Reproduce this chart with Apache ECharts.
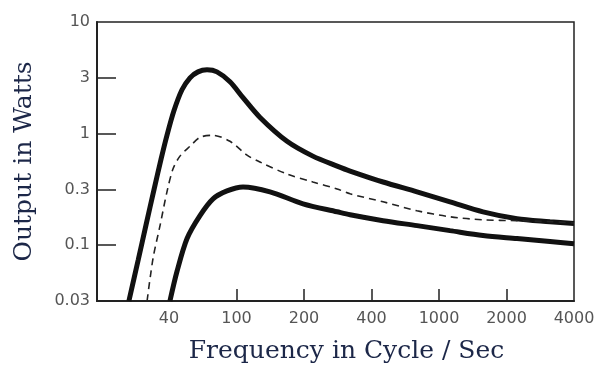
<!DOCTYPE html>
<html><head><meta charset="utf-8">
<script src="https://cdn.jsdelivr.net/npm/echarts@6/dist/echarts.min.js"></script>
<style>html,body{margin:0;padding:0;background:#fff}#c{width:608px;height:369px}</style>
</head><body><div id="c"></div>
<script>
// Tick labels (axes are evenly spaced between these ticks)
const xTicks = [40, 100, 200, 400, 1000, 2000, 4000];
const yTicks = [0.03, 0.1, 0.3, 1, 3, 10];

// Upper thick curve (Hz, W)
const freqUpper = [23.2, 26.3, 29.3, 32.6, 35.9, 38.9, 42.8, 47.7, 53.2, 59.3, 67.0, 76.7, 91.5, 106.9, 127.3, 168, 219, 281, 321, 468, 742, 1120, 1571, 2228, 3125, 4000];
const wattUpper = [0.03, 0.0722, 0.150, 0.297, 0.576, 0.963, 1.574, 2.37, 3.0, 3.41, 3.56, 3.41, 2.775, 2.03, 1.374, 0.847, 0.615, 0.496, 0.446, 0.352, 0.286, 0.235, 0.193, 0.1686, 0.159, 0.153];

// Middle dashed curve
const freqMiddle = [29.7, 32.2, 35.4, 38.9, 42.2, 46.4, 53.2, 60.9, 72.7, 91.5, 111.4, 127.3, 168, 219, 281, 321, 468, 742, 1120, 1571, 2228, 3125, 4000];
const wattMiddle = [0.03, 0.0753, 0.147, 0.286, 0.465, 0.615, 0.761, 0.922, 0.963, 0.847, 0.628, 0.541, 0.418, 0.352, 0.303, 0.275, 0.235, 0.197, 0.175, 0.165, 0.162, 0.159, 0.155];

// Lower thick curve
const freqLower = [40.5, 44.6, 51.1, 60.9, 72.7, 87.9, 106.9, 141, 198, 281, 321, 468, 742, 1120, 1571, 2228, 3125, 4000];
const wattLower = [0.03, 0.057, 0.114, 0.179, 0.249, 0.291, 0.316, 0.286, 0.226, 0.193, 0.182, 0.162, 0.147, 0.1333, 0.121, 0.114, 0.1076, 0.103];

// Map a value to its position on an axis whose ticks are evenly spaced (log between ticks)
function pos(v, ticks) {
  let i = 0;
  while (i < ticks.length - 2 && v >= ticks[i + 1]) i++;
  return i + Math.log(v / ticks[i]) / Math.log(ticks[i + 1] / ticks[i]);
}
function pts(fs, ws) { return fs.map((f, k) => [pos(f, xTicks), pos(ws[k], yTicks)]); }

const idxX = xTicks.map((_, i) => i);
const idxY = yTicks.map((_, i) => i);

const chart = echarts.init(document.getElementById('c'), null, {renderer: 'canvas'});
chart.setOption({
  animation: false,
  backgroundColor: '#fff',
  grid: {left: 97, right: 34, top: 22, bottom: 66, show: true, borderColor: '#222', borderWidth: 1.5, backgroundColor: 'transparent'},
  xAxis: {
    type: 'value', min: -1.067, max: 6,
    name: 'Frequency in Cycle / Sec', nameLocation: 'middle', nameGap: 38,
    nameTextStyle: {fontFamily: 'DejaVu Serif', fontSize: 25, color: '#1c2748', padding: [0, 0, 0, 22]},
    axisLine: {show: true, onZero: false, lineStyle: {color: '#222', width: 2}},
    axisTick: {show: true, inside: true, length: 12, customValues: idxX.slice(1, 6), lineStyle: {color: '#222', width: 1.5}},
    axisLabel: {customValues: idxX, formatter: v => String(xTicks[Math.round(v)]), fontFamily: 'DejaVu Sans', fontSize: 16, color: '#555', margin: 10},
    splitLine: {show: false}
  },
  yAxis: {
    type: 'value', min: 0, max: 5,
    name: 'Output in Watts', nameLocation: 'middle', nameGap: 60,
    nameTextStyle: {fontFamily: 'DejaVu Serif', fontSize: 25, color: '#1c2748'},
    axisLine: {show: true, onZero: false, lineStyle: {color: '#222', width: 2}},
    axisTick: {show: true, inside: true, length: 19, customValues: idxY.slice(1, 5), lineStyle: {color: '#222', width: 1.5}},
    axisLabel: {customValues: idxY, formatter: v => String(yTicks[Math.round(v)]), fontFamily: 'DejaVu Sans', fontSize: 16, color: '#555', margin: 7},
    splitLine: {show: false}
  },
  series: [
    {type: 'line', data: pts(freqUpper, wattUpper), smooth: 0.3, showSymbol: false, lineStyle: {color: '#111', width: 5}, clip: true},
    {type: 'line', data: pts(freqMiddle, wattMiddle), smooth: 0.3, showSymbol: false, lineStyle: {color: '#222', width: 1.6, type: [7, 5]}, clip: true},
    {type: 'line', data: pts(freqLower, wattLower), smooth: 0.3, showSymbol: false, lineStyle: {color: '#111', width: 5}, clip: true}
  ]
});
</script>
</body></html>
